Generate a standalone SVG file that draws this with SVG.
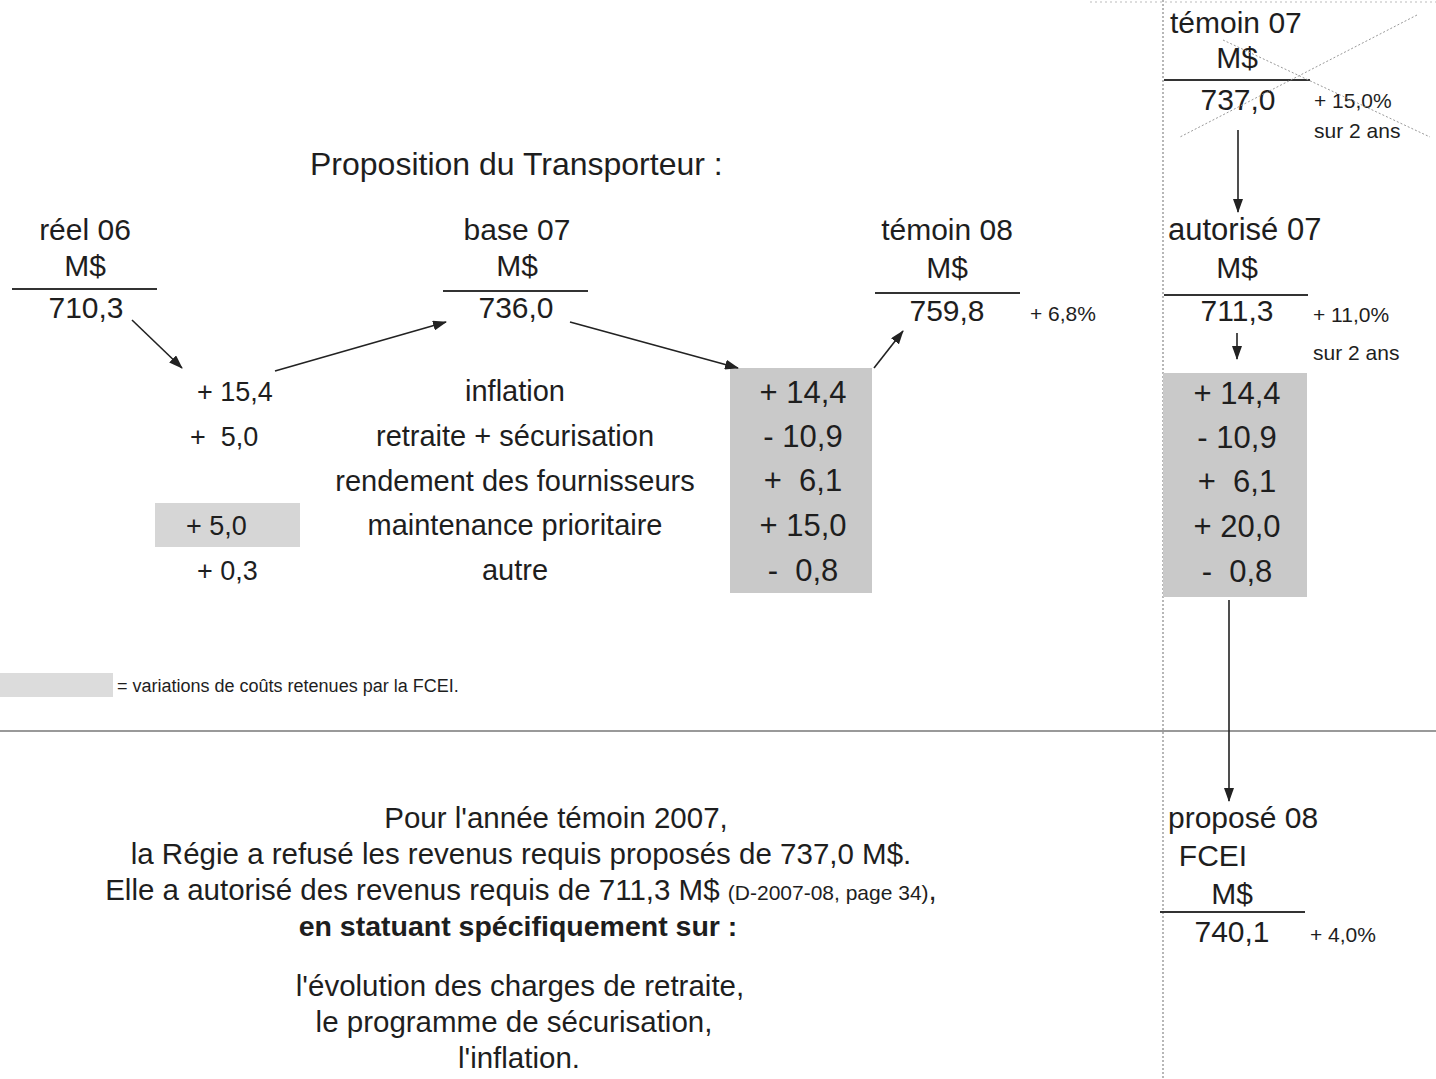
<svg xmlns="http://www.w3.org/2000/svg" width="1436" height="1079" viewBox="0 0 1436 1079">
<style>
text{font-family:"Liberation Sans",Arial,sans-serif;fill:#1e1e1e;white-space:pre}
.t{font-size:30px}
.l{font-size:29px}
.v{font-size:27px}
.g{font-size:31px}
.s{font-size:21px}
.b{font-size:29.5px}
.m{text-anchor:middle}
.ul{stroke:#333;stroke-width:2}
.ar{stroke:#222;stroke-width:1.6;fill:none;marker-end:url(#ah)}
.box{fill:#c9c9c9}
</style>
<defs>
<marker id="ah" viewBox="0 0 14 10" refX="13" refY="5" markerWidth="14" markerHeight="10" markerUnits="userSpaceOnUse" orient="auto">
<path d="M0,0 L14,5 L0,10 Z" fill="#222"/>
</marker>
</defs>
<rect width="1436" height="1079" fill="#fff"/>

<g id="frame">
<line x1="1163" y1="0" x2="1163" y2="1079" stroke="#888" stroke-width="1.2" stroke-dasharray="2 2"/>
<line x1="0" y1="731" x2="1436" y2="731" stroke="#777" stroke-width="1.3"/>
<line x1="1090" y1="2" x2="1436" y2="2" stroke="#bbb" stroke-width="1" stroke-dasharray="2 3"/>
</g>

<g id="temoin07">
<text class="t" x="1170" y="33">témoin 07</text>
<text class="t m" x="1237" y="68">M$</text>
<line class="ul" x1="1164" y1="80" x2="1310" y2="80"/>
<text class="t m" x="1238" y="110">737,0</text>
<text class="s" x="1314" y="108">+ 15,0%</text>
<text class="s" x="1314" y="138">sur 2 ans</text>
<line x1="1223" y1="40" x2="1430" y2="137" stroke="#999" stroke-width="1" stroke-dasharray="2 2"/>
<line x1="1417" y1="15" x2="1180" y2="137" stroke="#999" stroke-width="1" stroke-dasharray="2 2"/>
</g>

<g id="titre">
<text x="310" y="175" font-size="32">Proposition du Transporteur :</text>
</g>

<g id="reel06">
<text class="t m" x="85" y="240">réel 06</text>
<text class="t m" x="85" y="276">M$</text>
<line class="ul" x1="12" y1="289" x2="157" y2="289"/>
<text class="t m" x="86" y="318">710,3</text>
</g>

<g id="base07">
<text class="t m" x="517" y="240">base 07</text>
<text class="t m" x="517" y="276">M$</text>
<line class="ul" x1="443" y1="291" x2="588" y2="291"/>
<text class="t m" x="516" y="318">736,0</text>
</g>

<g id="temoin08">
<text class="t m" x="947" y="240">témoin 08</text>
<text class="t m" x="947" y="278">M$</text>
<line class="ul" x1="875" y1="293" x2="1020" y2="293"/>
<text class="t m" x="947" y="321">759,8</text>
<text class="s" x="1030" y="321">+ 6,8%</text>
</g>

<g id="autorise07">
<text x="1168" y="240" font-size="31">autorisé 07</text>
<text class="t m" x="1237" y="278">M$</text>
<line class="ul" x1="1164" y1="295" x2="1308" y2="295"/>
<text class="t m" x="1237" y="321">711,3</text>
<text class="s" x="1313" y="322">+ 11,0%</text>
<text class="s" x="1313" y="360">sur 2 ans</text>
</g>

<g id="variations-transporteur">
<text class="v" x="197" y="401">+ 15,4</text>
<text class="v" x="190" y="446">+  5,0</text>
<rect x="155" y="503" width="145" height="44" fill="#d6d6d6"/>
<text class="v" x="186" y="535">+ 5,0</text>
<text class="v" x="197" y="580">+ 0,3</text>
</g>

<g id="libelles">
<text class="l m" x="515" y="401">inflation</text>
<text class="l m" x="515" y="446">retraite + sécurisation</text>
<text class="l m" x="515" y="491">rendement des fournisseurs</text>
<text class="l m" x="515" y="535">maintenance prioritaire</text>
<text class="l m" x="515" y="580">autre</text>
</g>

<g id="variations-fcei-08">
<rect class="box" x="730" y="368" width="142" height="225"/>
<text class="g m" x="803" y="403">+ 14,4</text>
<text class="g m" x="803" y="447">- 10,9</text>
<text class="g m" x="803" y="491">+  6,1</text>
<text class="g m" x="803" y="536">+ 15,0</text>
<text class="g m" x="803" y="581">-  0,8</text>
</g>

<g id="variations-fcei-07">
<rect class="box" x="1163" y="373" width="144" height="224"/>
<text class="g m" x="1237" y="404">+ 14,4</text>
<text class="g m" x="1237" y="448">- 10,9</text>
<text class="g m" x="1237" y="492">+  6,1</text>
<text class="g m" x="1237" y="537">+ 20,0</text>
<text class="g m" x="1237" y="582">-  0,8</text>
</g>

<g id="legende">
<rect x="0" y="673" width="113" height="24" fill="#dcdcdc"/>
<text font-size="18" x="117" y="692">= variations de coûts retenues par la FCEI.</text>
</g>

<g id="propose08">
<text class="t" x="1168" y="828">proposé 08</text>
<text class="t m" x="1213" y="866">FCEI</text>
<text class="t m" x="1232" y="904">M$</text>
<line class="ul" x1="1160" y1="912" x2="1305" y2="912"/>
<text class="t m" x="1232" y="942">740,1</text>
<text class="s" x="1310" y="942">+ 4,0%</text>
</g>

<g id="texte-bas">
<text class="b m" x="556" y="828">Pour l'année témoin 2007,</text>
<text class="b m" x="521" y="864">la Régie a refusé les revenus requis proposés de 737,0 M$.</text>
<text class="b m" x="521" y="900">Elle a autorisé des revenus requis de 711,3 M$ <tspan font-size="21">(D-2007-08, page 34)</tspan>,</text>
<text class="m" x="518" y="936" font-weight="bold" font-size="28.5">en statuant spécifiquement sur :</text>
<text class="b m" x="520" y="996">l'évolution des charges de retraite,</text>
<text class="b m" x="514" y="1032">le programme de sécurisation,</text>
<text class="b m" x="519" y="1068">l'inflation.</text>
</g>

<g id="connecteurs">
<line class="ar" x1="132" y1="320" x2="182" y2="368"/>
<line class="ar" x1="275" y1="371" x2="446" y2="322"/>
<line class="ar" x1="570" y1="322" x2="738" y2="368"/>
<line class="ar" x1="874" y1="368" x2="903" y2="331"/>
<line class="ar" x1="1238" y1="130" x2="1238" y2="212"/>
<line class="ar" x1="1237" y1="333" x2="1237" y2="359"/>
<line class="ar" x1="1229" y1="600" x2="1229" y2="801"/>
</g>
</svg>
